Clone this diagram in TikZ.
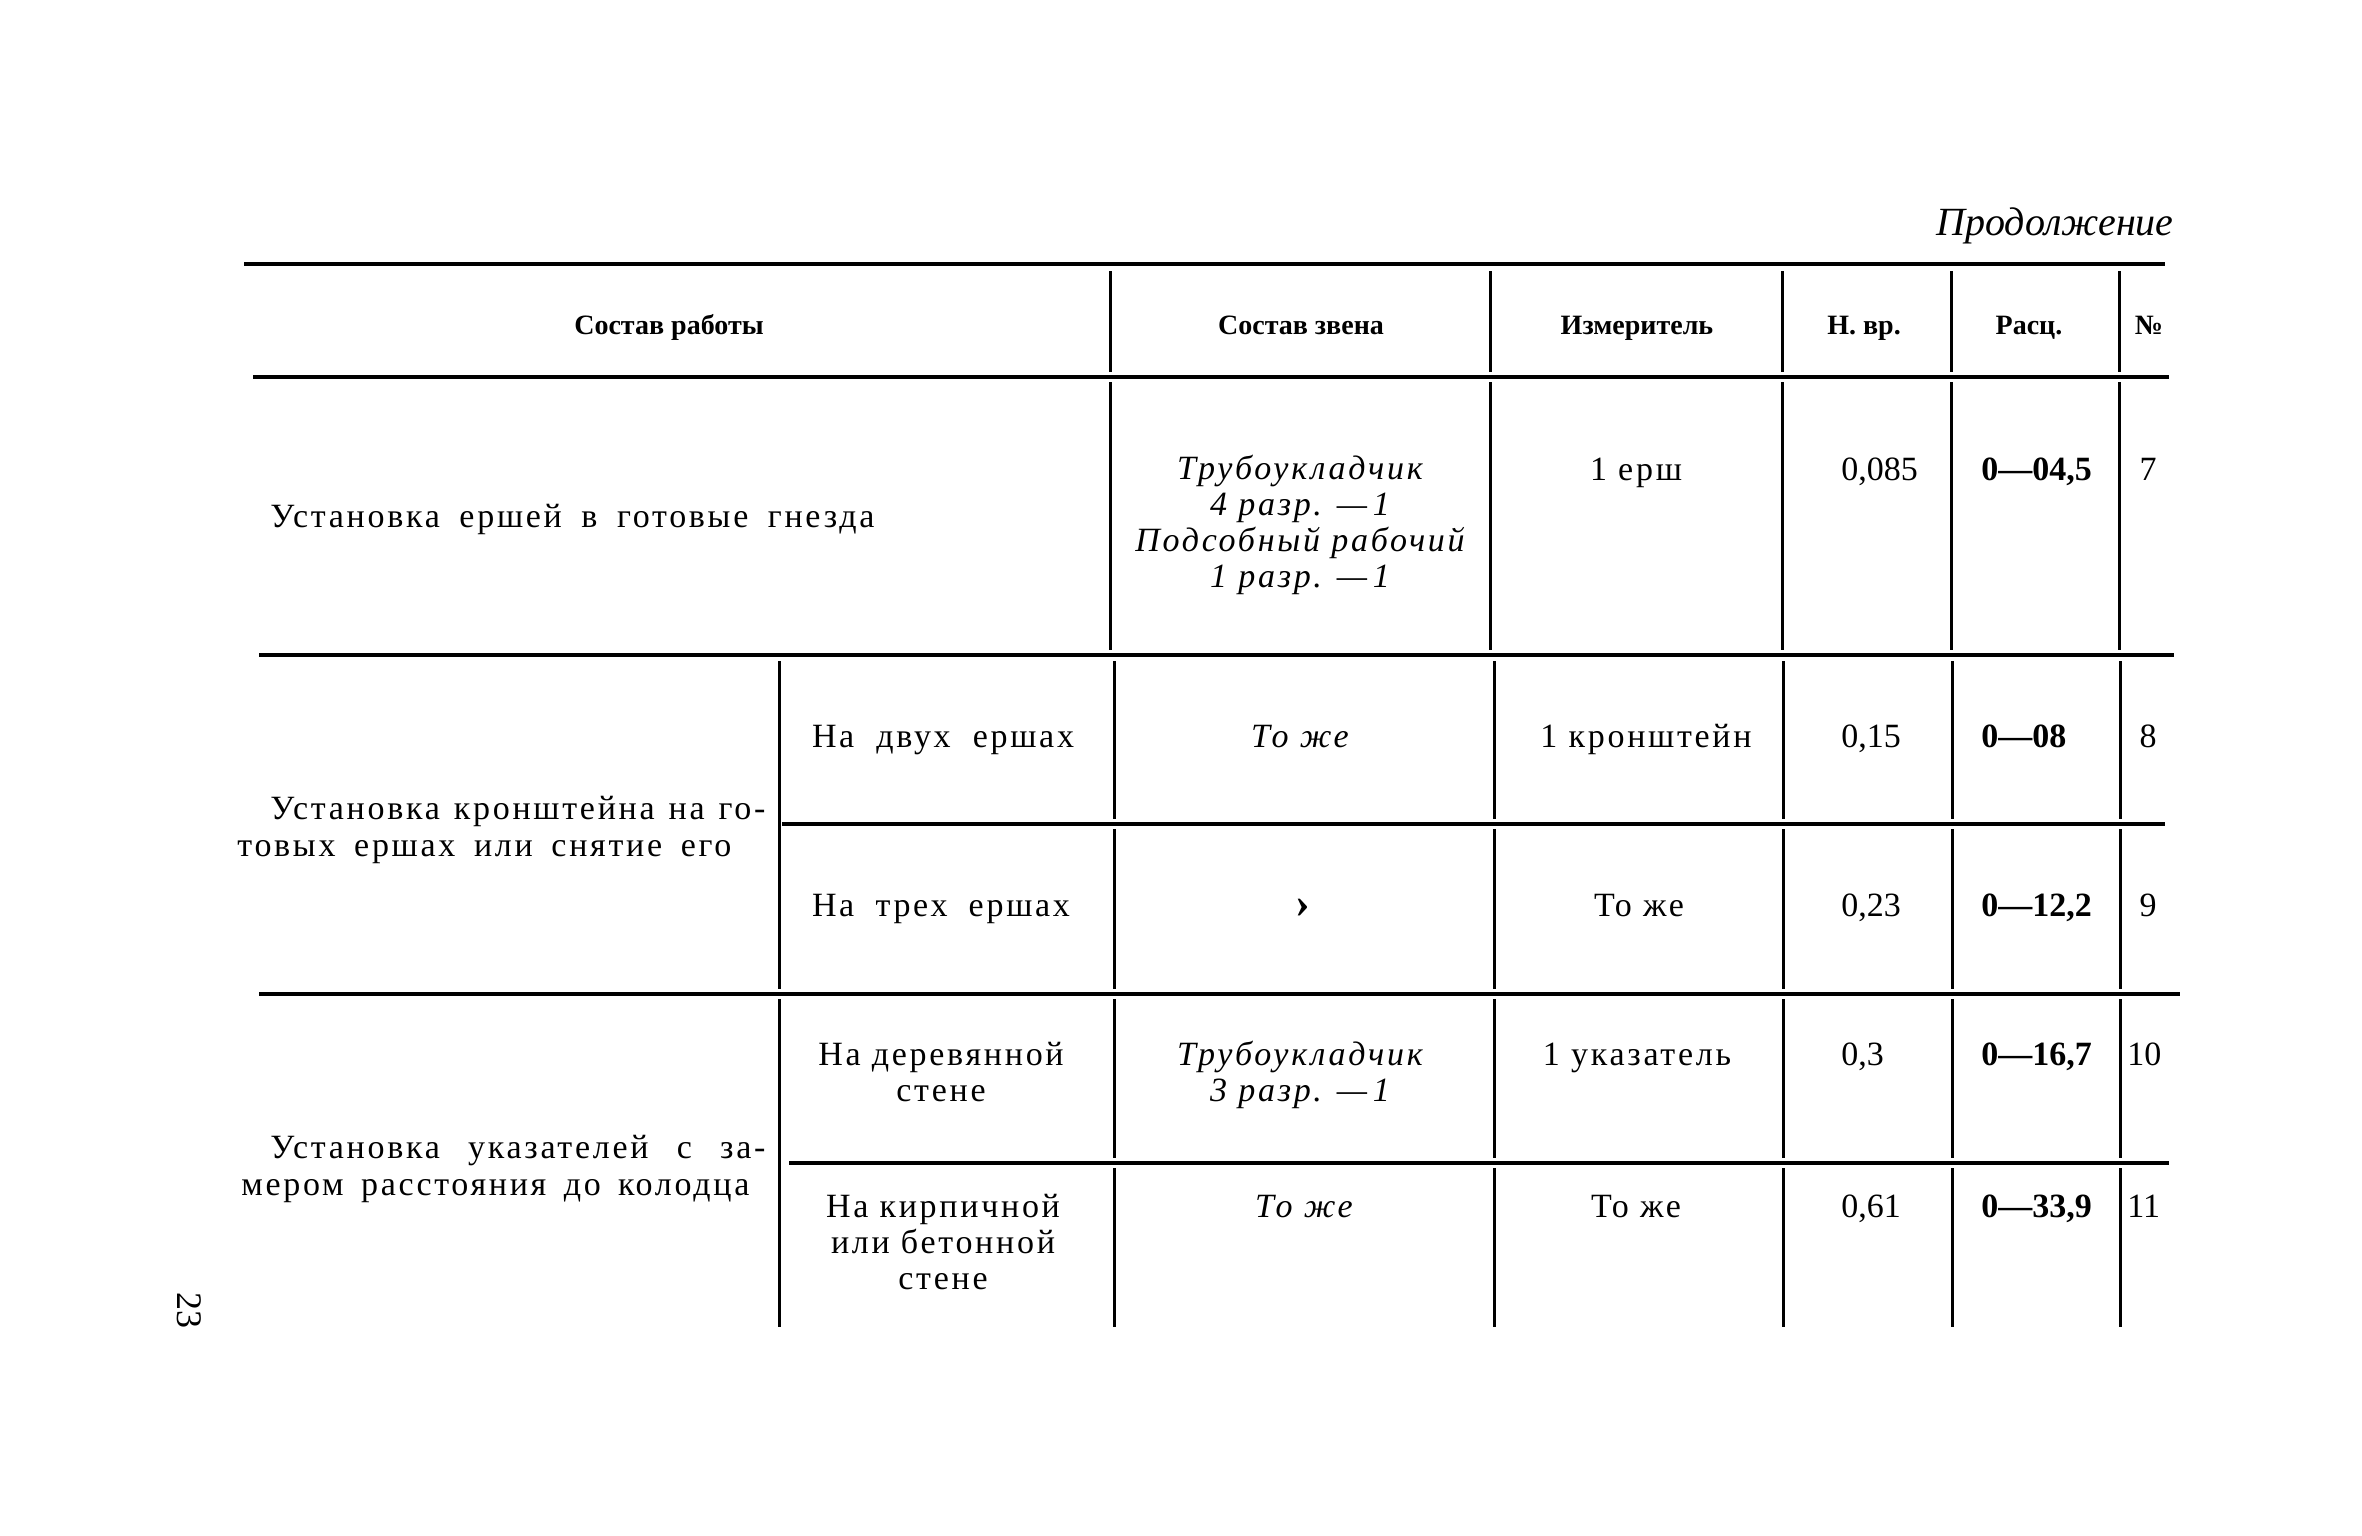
\documentclass[tikz,border=0pt]{standalone}
\usepackage{fontspec}
\setmainfont{Liberation Serif}
\newfontfamily\spfont{Liberation Serif}[LetterSpace=8]
\newcommand{\fitto}[2]{\makebox[#1][s]{#2}}
\begin{document}
\begin{tikzpicture}[x=0.5pt,y=-0.5pt,
  hrule/.style={line width=2pt},
  vrule/.style={line width=1.5pt},
  txt/.style={inner sep=0pt, anchor=base, font=\spfont\fontsize{17}{18}\selectfont},
  txtw/.style={txt, anchor=base west},
  itx/.style={inner sep=0pt, anchor=base, align=center, font=\spfont\itshape\fontsize{17}{18}\selectfont},
  ctr/.style={inner sep=0pt, anchor=base, align=center, font=\spfont\fontsize{17}{18}\selectfont},
  num/.style={inner sep=0pt, anchor=base west, font=\fontsize{17}{18}\selectfont},
  bnum/.style={num, font=\bfseries\fontsize{17}{18}\selectfont},
  hd/.style={inner sep=0pt, anchor=base, font=\bfseries\fontsize{14}{16}\selectfont}]
\useasboundingbox (0,0) rectangle (2362,1536);
\fill[white] (0,0) rectangle (2362,1536);

% continuation label
\node[inner sep=0pt, anchor=base east, font=\itshape\fontsize{20}{22}\selectfont] (cont) at (2174,235) {Продолжение};

% horizontal rules
\draw[hrule] (244,264) -- (2165,264);
\draw[hrule] (253,377) -- (2169,377);
\draw[hrule] (259,655) -- (2174,655);
\draw[hrule] (782,824) -- (2165,824);
\draw[hrule] (259,994) -- (2180,994);
\draw[hrule] (789,1163) -- (2169,1163);

% vertical rules
\foreach \x in {1110,1490,1782,1951,2119}{
  \draw[vrule] (\x,271) -- (\x,372);
  \draw[vrule] (\x,382) -- (\x,650);
}
\foreach \x in {1114,1494,1783,1952,2120}{
  \draw[vrule] (\x,661) -- (\x,819);
  \draw[vrule] (\x,829) -- (\x,989);
  \draw[vrule] (\x,999) -- (\x,1158);
  \draw[vrule] (\x,1168) -- (\x,1327);
}
\draw[vrule] (779,661) -- (779,989);
\draw[vrule] (779,999) -- (779,1327);

% header
\node[hd] (h1) at (669,334) {Состав работы};
\node[hd] (h2) at (1301,334) {Состав звена};
\node[hd] (h3) at (1637,334) {Измеритель};
\node[hd] (h4) at (1864,334) {Н. вр.};
\node[hd] (h5) at (2029,334) {Расц.};
\node[hd] (h6) at (2149,334) {№};

% row 1
\node[txtw] (r1a) at (270,527) {\fitto{302pt}{Установка ершей в готовые гнезда}};
\node[itx] (r1b) at (1300,587) {Трубоукладчик\\4 разр. —\,1\\Подсобный рабочий\\1 разр. —\,1};
\node[txt] (r1c) at (1636,480) {1 ерш};
\node[num] (r1d) at (1841,480) {0,085};
\node[bnum] (r1e) at (1981,480) {0—04,5};
\node[num, anchor=base] (r1f) at (2148,480) {7};

% rows 2-3
\node[txtw] (p1a) at (270,819) {\fitto{247.5pt}{Установка кронштейна на го-}};
\node[txtw] (p1b) at (237,856) {\fitto{247pt}{товых ершах или снятие его}};
\node[txt] (r2a) at (943,747) {\fitto{131pt}{На двух ершах}};
\node[itx] (r2b) at (1300,747) {То же};
\node[txt] (r2c) at (1646,747) {1 кронштейн};
\node[num] (r2d) at (1841,747) {0,15};
\node[bnum] (r2e) at (1981,747) {0—08};
\node[num, anchor=base] (r2f) at (2148,747) {8};

\node[txt] (r3a) at (941,916) {\fitto{129pt}{На трех ершах}};
\node[inner sep=0pt, anchor=base, font=\bfseries\fontsize{22}{24}\selectfont] (r3b) at (1303,917) {›};
\node[txt] (r3c) at (1639,916) {То же};
\node[num] (r3d) at (1841,916) {0,23};
\node[bnum] (r3e) at (1981,916) {0—12,2};
\node[num, anchor=base] (r3f) at (2148,916) {9};

% rows 4-5
\node[txtw] (p2a) at (270,1158) {\fitto{247.5pt}{Установка указателей с за-}};
\node[txtw] (p2b) at (241,1195) {\fitto{254pt}{мером расстояния до колодца}};
\node[ctr] (r4a) at (941,1101) {На деревянной\\стене};
\node[itx] (r4b) at (1300,1101) {Трубоукладчик\\3 разр. —\,1};
\node[txt] (r4c) at (1637,1065) {1 указатель};
\node[num] (r4d) at (1841,1065) {0,3};
\node[bnum] (r4e) at (1981,1065) {0—16,7};
\node[num] (r4f) at (2127,1065) {10};

\node[ctr] (r5a) at (943,1289) {На кирпичной\\или бетонной\\стене};
\node[itx] (r5b) at (1304,1217) {То же};
\node[txt] (r5c) at (1636,1217) {То же};
\node[num] (r5d) at (1841,1217) {0,61};
\node[bnum] (r5e) at (1981,1217) {0—33,9};
\node[num] (r5f) at (2127,1217) {11};

% page number
\node[inner sep=0pt, rotate=-90, font=\fontsize{18}{20}\selectfont] (pg) at (189,1310) {23};
\end{tikzpicture}
\end{document}
